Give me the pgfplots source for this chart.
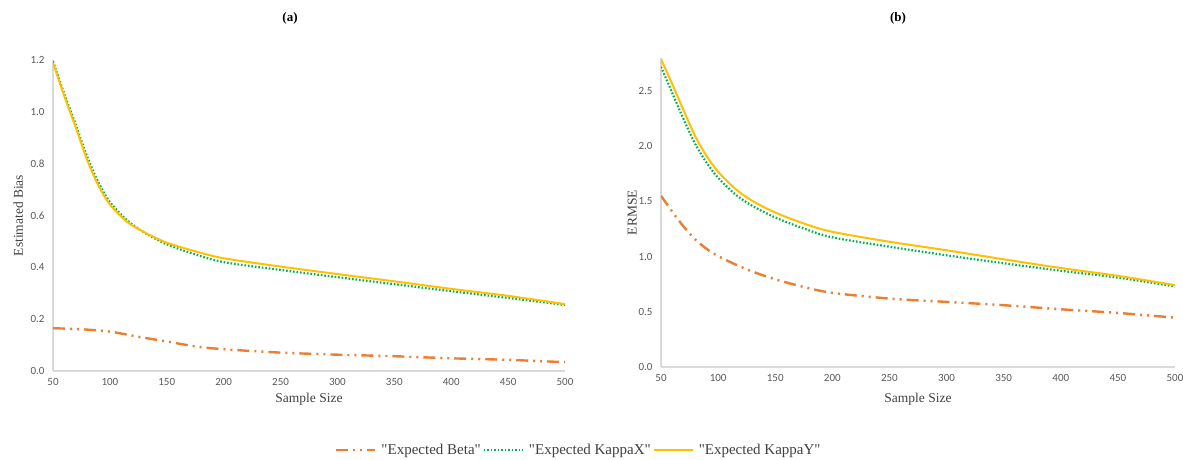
\documentclass[border=0pt]{standalone}
\usepackage{fontspec}
\setmainfont{Liberation Serif}[Ligatures=TeXOff]
\newfontfamily\calibri{Carlito}
\usepackage{pgfplots}
\pgfplotsset{compat=1.18}
\definecolor{cBeta}{HTML}{ED7D31}
\definecolor{cKX}{HTML}{00B050}
\definecolor{cKY}{HTML}{FFC000}
\definecolor{axgray}{HTML}{D9D9D9}
\definecolor{tickgray}{HTML}{595959}
\definecolor{labgray}{HTML}{404040}
\tikzset{
  betaline/.style={color=cBeta, line width=2.4pt, dash pattern=on 12pt off 5pt on 2pt off 5pt on 2pt off 5pt},
  kxline/.style={color=cKX, line width=2.2pt, dash pattern=on 1.6pt off 1.9pt},
  kyline/.style={color=cKY, line width=2pt},
}
\pgfplotsset{
  mystyle/.style={
    scale only axis,
    anchor=south west,
    axis x line*=bottom, axis y line*=left,
    axis line style={draw=axgray, line width=1.5pt, -},
    major tick length=0pt,
    xmin=50, xmax=500,
    xtick={50,100,...,500},
    ymin=0,
    /pgf/number format/assume math mode=true,
    tick label style={font=\calibri\fontsize{11}{12}\selectfont, text=tickgray},
    x tick label style={yshift=-4pt},
    y tick label style={xshift=-5pt, /pgf/number format/.cd, fixed, fixed zerofill, precision=1, /tikz/.cd},
    label style={font=\fontsize{13.5}{15}\selectfont, text=labgray},
    xlabel={Sample Size},
    legend image code/.code={\draw[##1] (0pt,0pt) -- (39pt,0pt);},
  }
}
\begin{document}
\begin{tikzpicture}
\useasboundingbox (0,0) rectangle (1183pt,459pt);
\node[font=\bfseries\fontsize{13}{15}\selectfont] at (290pt,441pt) {(a)};
\node[font=\bfseries\fontsize{13}{15}\selectfont] at (898pt,441pt) {(b)};
\begin{axis}[mystyle,
  at={(53pt,88pt)}, width=512pt, height=311pt,
  ymax=1.2, ytick={0,0.2,...,1.2},
  ylabel={Estimated Bias},
  xlabel style={at={(axis description cs:0.5,-0.09)}, anchor=center},
  ylabel style={at={(axis description cs:-0.068,0.5)}, anchor=center},
  legend columns=3,
  legend style={at={(axis description cs:1.027,-0.254)}, anchor=center, draw=none,
    font=\fontsize{15}{17}\selectfont, text=labgray,
    /tikz/every odd column/.append style={column sep=3pt}},
]
\addplot[betaline, smooth] coordinates {(50,0.165)(75,0.161)(100,0.152)(125,0.132)(150,0.114)(175,0.095)(200,0.084)(250,0.071)(300,0.063)(350,0.057)(400,0.049)(450,0.043)(500,0.034)};
\addlegendentry{"Expected Beta"}
\addplot[kxline, smooth] coordinates {(50,1.195)(60,1.068)(70,0.95)(80,0.827)(90,0.727)(100,0.652)(115,0.582)(130,0.535)(150,0.489)(175,0.45)(200,0.42)(250,0.39)(300,0.362)(350,0.335)(400,0.308)(450,0.282)(500,0.255)};
\addlegendentry{"Expected KappaX"}
\addplot[kyline, smooth] coordinates {(50,1.19)(60,1.06)(70,0.94)(80,0.815)(90,0.715)(100,0.643)(115,0.576)(130,0.536)(150,0.495)(175,0.462)(200,0.435)(250,0.403)(300,0.374)(350,0.346)(400,0.317)(450,0.29)(500,0.258)};
\addlegendentry{"Expected KappaY"}
\end{axis}
\begin{axis}[mystyle,
  at={(661pt,92pt)}, width=514pt, height=309pt,
  ymax=2.8, ytick={0,0.5,...,2.5},
  ylabel={ERMSE},
  xlabel style={at={(axis description cs:0.5,-0.104)}, anchor=center},
  ylabel style={at={(axis description cs:-0.056,0.5)}, anchor=center},
]
\addplot[betaline, smooth] coordinates {(50,1.552)(60,1.405)(70,1.27)(80,1.155)(90,1.07)(100,1.005)(115,0.93)(130,0.865)(150,0.795)(175,0.725)(200,0.672)(250,0.62)(300,0.59)(350,0.56)(400,0.523)(450,0.49)(500,0.447)};
\addplot[kxline, smooth] coordinates {(50,2.72)(60,2.48)(70,2.24)(80,2.02)(90,1.85)(100,1.715)(115,1.565)(130,1.46)(150,1.355)(175,1.255)(200,1.175)(250,1.09)(300,1.012)(350,0.94)(400,0.872)(450,0.81)(500,0.73)};
\addplot[kyline, smooth] coordinates {(50,2.79)(60,2.56)(70,2.32)(80,2.09)(90,1.91)(100,1.77)(115,1.615)(130,1.505)(150,1.40)(175,1.30)(200,1.225)(250,1.135)(300,1.058)(350,0.976)(400,0.897)(450,0.826)(500,0.742)};
\end{axis}
\end{tikzpicture}
\end{document}
